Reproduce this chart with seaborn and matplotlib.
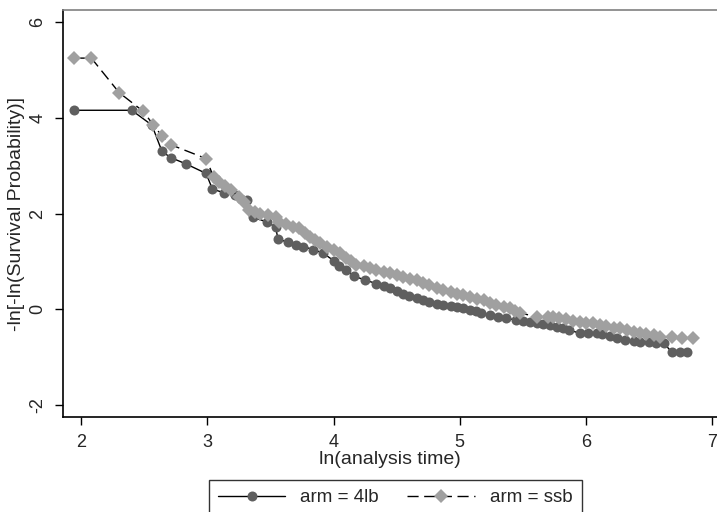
"""
    log-log survival plot by arm (4lb vs ssb)
"""
import matplotlib
matplotlib.use('Agg')
import matplotlib.pyplot as plt
import numpy as np
import pandas as pd
import seaborn as sns

## ln(analysis time) / -ln[-ln(S)]
lnt_4lb = [1.944, 2.40, 2.56, 2.64, 2.71, 2.83, 2.99, 3.04, 3.13, 3.22, 3.31, 3.36,
           3.47, 3.54, 3.56, 3.64, 3.70, 3.76, 3.84, 3.92, 4.00, 4.04, 4.10, 4.16,
           4.25, 4.34, 4.40, 4.45, 4.50, 4.55, 4.60, 4.66, 4.71, 4.76, 4.82, 4.87,
           4.93, 4.98, 5.03, 5.08, 5.13, 5.17, 5.24, 5.30, 5.37, 5.45, 5.50, 5.56,
           5.61, 5.66, 5.72, 5.77, 5.82, 5.87, 5.95, 6.02, 6.09, 6.13, 6.19, 6.25,
           6.31, 6.38, 6.43, 6.50, 6.56, 6.62, 6.68, 6.75, 6.80]
lls_4lb = [4.16, 4.16, 3.85, 3.30, 3.17, 3.04, 2.84, 2.51, 2.44, 2.39, 2.28, 1.92,
           1.83, 1.72, 1.47, 1.40, 1.35, 1.31, 1.25, 1.17, 1.02, 0.90, 0.82, 0.70,
           0.61, 0.54, 0.49, 0.44, 0.38, 0.33, 0.28, 0.23, 0.19, 0.16, 0.12, 0.09,
           0.06, 0.04, 0.02, -0.01, -0.03, -0.08, -0.12, -0.15, -0.19, -0.22, -0.24, -0.26,
           -0.28, -0.30, -0.33, -0.36, -0.40, -0.43, -0.50, -0.50, -0.50, -0.52, -0.56, -0.59,
           -0.64, -0.66, -0.68, -0.69, -0.71, -0.71, -0.89, -0.89, -0.89]

lnt_ssb = [1.944, 2.08, 2.30, 2.49, 2.57, 2.64, 2.71, 2.99, 3.05, 3.09, 3.14, 3.19,
           3.25, 3.29, 3.33, 3.38, 3.42, 3.48, 3.54, 3.57, 3.62, 3.68, 3.73, 3.77,
           3.81, 3.85, 3.89, 3.95, 4.00, 4.05, 4.10, 4.14, 4.18, 4.24, 4.29, 4.34,
           4.40, 4.45, 4.50, 4.55, 4.61, 4.66, 4.71, 4.76, 4.82, 4.87, 4.93, 4.98,
           5.03, 5.08, 5.14, 5.19, 5.24, 5.29, 5.35, 5.40, 5.44, 5.48, 5.61, 5.70,
           5.74, 5.79, 5.84, 5.90, 5.95, 6.00, 6.06, 6.11, 6.16, 6.22, 6.27, 6.33,
           6.38, 6.43, 6.48, 6.54, 6.59, 6.68, 6.76, 6.85]
lls_ssb = [5.25, 5.25, 4.53, 4.14, 3.86, 3.62, 3.44, 3.15, 2.76, 2.67, 2.58, 2.49,
           2.35, 2.25, 2.08, 2.03, 2.00, 1.97, 1.94, 1.83, 1.78, 1.73, 1.69, 1.60,
           1.52, 1.45, 1.38, 1.31, 1.24, 1.17, 1.07, 1.01, 0.92, 0.90, 0.86, 0.82,
           0.78, 0.75, 0.71, 0.68, 0.64, 0.61, 0.56, 0.51, 0.45, 0.40, 0.36, 0.33,
           0.29, 0.25, 0.22, 0.19, 0.14, 0.09, 0.05, 0.02, -0.03, -0.08, -0.15, -0.16,
           -0.17, -0.19, -0.21, -0.24, -0.27, -0.28, -0.29, -0.32, -0.35, -0.38, -0.40, -0.44,
           -0.47, -0.49, -0.51, -0.54, -0.57, -0.57, -0.59, -0.60]

x_ticks = [2, 3, 4, 5, 6, 7]
y_ticks = [-2, 0, 2, 4, 6]

sns.set_style('ticks')
plt.rcParams['font.family'] = ['Liberation Sans', 'DejaVu Sans']
plt.rcParams['axes.unicode_minus'] = False

df_4lb = pd.DataFrame({'lnt': lnt_4lb, 'lls': lls_4lb})
df_ssb = pd.DataFrame({'lnt': lnt_ssb, 'lls': lls_ssb})

fig = plt.figure(figsize=(7.17, 5.12), dpi=100)
ax = fig.add_axes([0.088, 0.1855, 0.912, 0.794])

sns.lineplot(data=df_4lb, x='lnt', y='lls', ax=ax, estimator=None, sort=False,
             color='black', linewidth=1.0, marker='o', markersize=7.2,
             markerfacecolor='#5f5f5f', markeredgecolor='#5f5f5f', markeredgewidth=0,
             label='arm = 4lb')
sns.lineplot(data=df_ssb, x='lnt', y='lls', ax=ax, estimator=None, sort=False,
             color='black', linewidth=1.0, dashes=(8, 4), marker='D', markersize=7.2,
             markerfacecolor='#a0a0a0', markeredgecolor='#a0a0a0', markeredgewidth=0,
             label='arm = ssb')

ax.set_xlim(1.856, 7.04)
ax.set_ylim(-2.25, 6.245)
ax.set_xticks(x_ticks)
ax.set_yticks(y_ticks)
ax.tick_params(axis='both', length=6, width=1, color='black', labelsize=13, pad=6)
ax.tick_params(axis='y', labelrotation=90)
for lbl in ax.get_yticklabels():
    lbl.set_va('center')
ax.set_xlabel('ln(analysis time)', fontsize=14, labelpad=0)
ax.set_ylabel('-ln[-ln(Survival Probability)]', fontsize=14, labelpad=3)

ax.spines['left'].set_color('black')
ax.spines['bottom'].set_color('black')
ax.spines['left'].set_linewidth(1.2)
ax.spines['bottom'].set_linewidth(1.2)
ax.spines['top'].set_visible(True)
ax.spines['top'].set_color('#808080')
ax.spines['top'].set_linewidth(1.2)
ax.spines['right'].set_visible(False)
ax.grid(False)

handles, labels = ax.get_legend_handles_labels()
ax.get_legend().remove()
leg = fig.legend(handles, labels, loc='upper center', bbox_to_anchor=(0.551, 0.0625),
                 ncol=2, fontsize=13.5, frameon=True, fancybox=False, handlelength=3.6,
                 handletextpad=0.8, columnspacing=1.5, borderpad=0.5, borderaxespad=0)
leg.get_frame().set_edgecolor('black')
leg.get_frame().set_linewidth(1.0)

fig.savefig('out.png', dpi=100)
